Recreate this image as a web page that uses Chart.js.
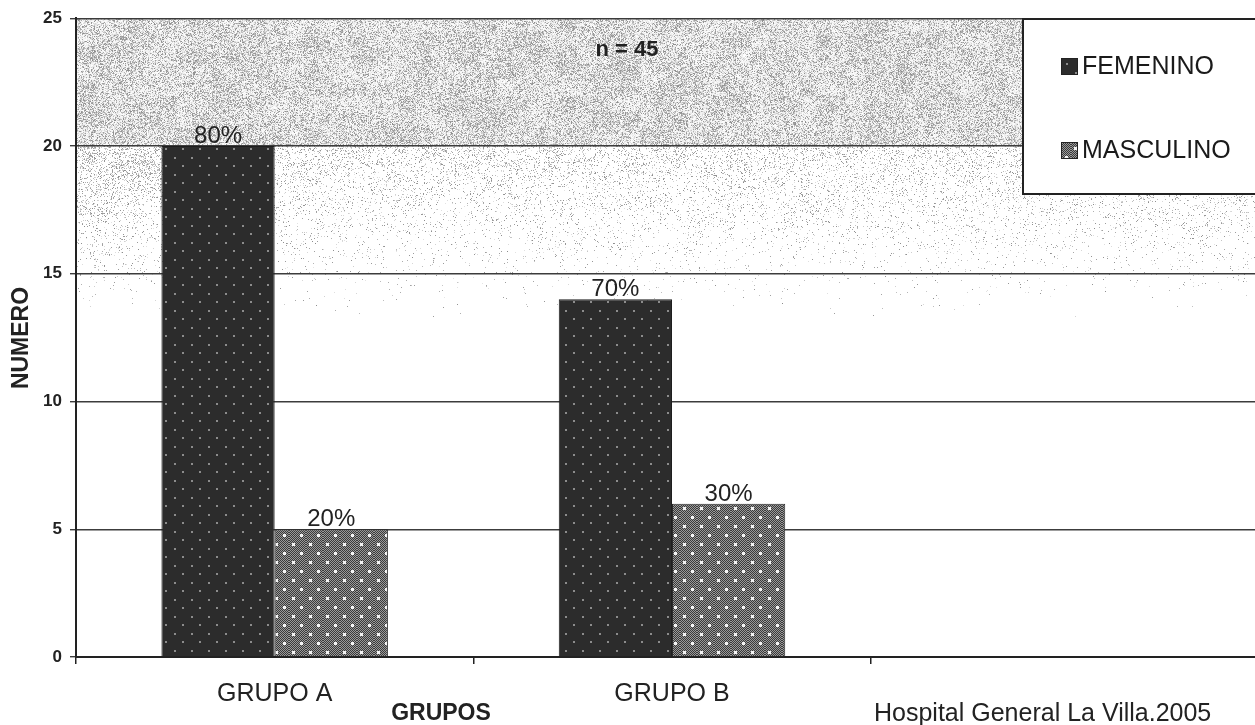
<!DOCTYPE html>
<html>
<head>
<meta charset="utf-8">
<script src="https://cdn.jsdelivr.net/npm/chart.js@4/dist/chart.umd.min.js"></script>
<style>
  html, body { margin: 0; padding: 0; background: #fff; overflow: hidden; }
  #wrap { width: 1268px; height: 725px; }
</style>
</head>
<body>
<div id="wrap"><canvas id="chart" width="1268" height="725"></canvas></div>
<script>
// Categories and counts per sex
const categories = ['GRUPO A', 'GRUPO B', ''];
const femenino = [20, 14, null];
const masculino = [5, 6, null];
const seriesNames = ['FEMENINO', 'MASCULINO'];
const yTicks = [0, 5, 10, 15, 20, 25];
const xTitle = 'GRUPOS';
const yTitle = 'NUMERO';
const sourceNote = 'Hospital General La Villa.2005';

const FONT = '"Liberation Sans", Arial, Helvetica, sans-serif';

// Deterministic hash used for the scanned stipple textures
function hash(x, y) {
  let n = Math.imul(x, 374761393) + Math.imul(y, 668265263);
  n = Math.imul(n ^ (n >>> 13), 1274126177);
  n = n ^ (n >>> 16);
  return (n >>> 0) / 4294967296;
}

// Dark dotted fill
function makeDarkPattern() {
  const c = document.createElement('canvas');
  c.width = 17; c.height = 17;
  const g = c.getContext('2d');
  g.fillStyle = '#2c2c2c';
  g.fillRect(0, 0, 17, 17);
  g.fillStyle = '#8c8c8c';
  g.fillRect(4, 4, 2, 2);
  g.fillRect(12, 12, 2, 2);
  return g.createPattern(c, 'repeat');
}

// Mid-grey checkered fill with white dots
function makeGreyPattern() {
  const c = document.createElement('canvas');
  c.width = 17; c.height = 18;
  const g = c.getContext('2d');
  for (let y = 0; y < 18; y++) {
    for (let x = 0; x < 17; x++) {
      g.fillStyle = ((x + y) % 2 === 0) ? '#3a3a3a' : '#9a9a9a';
      g.fillRect(x, y, 1, 1);
    }
  }
  g.fillStyle = '#f4f4f4';
  g.fillRect(3, 3, 3, 3);
  g.fillRect(11, 12, 3, 3);
  return g.createPattern(c, 'repeat');
}

const darkFill = makeDarkPattern();
const greyFill = makeGreyPattern();

// Grey stipple haze in the upper part of the plot area
const hazePlugin = {
  id: 'haze',
  beforeDraw(chart) {
    const { ctx, chartArea: a } = chart;
    const y = chart.scales.y;
    const yTop = Math.round(a.top);
    const yMid = Math.round(y.getPixelForValue(20));
    const yEnd = Math.round(y.getPixelForValue(13));
    const x0 = Math.round(a.left), x1 = Math.round(a.right);
    const w = x1 - x0, h = yEnd - yTop;
    const img = ctx.createImageData(w, h);
    for (let j = 0; j < h; j++) {
      const py = yTop + j;
      for (let i = 0; i < w; i++) {
        const px = x0 + i;
        let dens;
        if (py <= yMid) {
          dens = 0.5;
        } else {
          const t = (py - yMid) / (yEnd - yMid);
          const leftBoost = px < x0 + 90 ? 0.2 : 0;
          dens = Math.max(0, (0.2 + leftBoost) * (1 - t) * (1 - t));
        }
        const blob = 0.7 + 0.6 * hash(px >> 4, py >> 4);
        const r1 = hash(px, py), r2 = hash(py + 911, px + 37);
        let v = 255;
        if (r1 < dens * blob) v = 140 + 90 * r2;
        else if (py <= yMid) v = 232 + 23 * r2;
        const k = (j * w + i) * 4;
        img.data[k] = img.data[k + 1] = img.data[k + 2] = v;
        img.data[k + 3] = 255;
      }
    }
    ctx.putImageData(img, x0, yTop);
  }
};

// Percentage of each bar within its group, written above the bar
const pctPlugin = {
  id: 'pct',
  afterDatasetsDraw(chart) {
    const { ctx } = chart;
    ctx.save();
    ctx.font = '24px ' + FONT;
    ctx.fillStyle = '#222';
    ctx.textAlign = 'center';
    ctx.textBaseline = 'alphabetic';
    chart.data.datasets.forEach((ds, di) => {
      const meta = chart.getDatasetMeta(di);
      meta.data.forEach((bar, i) => {
        const v = ds.data[i];
        if (v == null) return;
        const total = chart.data.datasets.reduce((s, d) => s + (d.data[i] || 0), 0);
        const pct = Math.round(v / total * 100);
        ctx.fillText(pct + '%', bar.x, bar.y - 3);
      });
    });
    ctx.restore();
  }
};

// Legend box, sample size, axis titles and source note
const annotPlugin = {
  id: 'annot',
  afterDraw(chart) {
    const { ctx, chartArea: a } = chart;
    ctx.save();

    // legend
    const lx = 1023, ly = Math.round(a.top) + 1, lw = 260, lh = 175;
    ctx.fillStyle = '#fff';
    ctx.fillRect(lx, ly, lw, lh);
    ctx.strokeStyle = '#222';
    ctx.lineWidth = 2;
    ctx.strokeRect(lx, ly, lw, lh);
    ctx.font = '25px ' + FONT;
    ctx.textBaseline = 'middle';
    ctx.textAlign = 'left';
    const rows = [66, 150];
    chart.data.datasets.forEach((ds, i) => {
      const cy = rows[i];
      ctx.fillStyle = ds.backgroundColor;
      ctx.fillRect(1061, cy - 8, 17, 17);
      ctx.strokeStyle = '#222';
      ctx.lineWidth = 1;
      ctx.strokeRect(1061.5, cy - 7.5, 16, 16);
      ctx.fillStyle = '#1a1a1a';
      ctx.fillText(ds.label, 1082, cy + 1);
    });

    // sample size
    const n = chart.data.datasets.reduce((s, d) => s + d.data.reduce((t, v) => t + (v || 0), 0), 0);
    ctx.font = 'bold 22px ' + FONT;
    ctx.fillStyle = '#222';
    ctx.textAlign = 'center';
    ctx.fillText('n = ' + n, 627, 50);

    // y title
    ctx.save();
    ctx.translate(22, 338);
    ctx.rotate(-Math.PI / 2);
    ctx.font = 'bold 23px ' + FONT;
    ctx.fillText(yTitle, 0, 0);
    ctx.restore();

    // x title and source
    ctx.font = 'bold 23px ' + FONT;
    ctx.textAlign = 'center';
    ctx.fillText(xTitle, 441, 714);
    ctx.font = '25px ' + FONT;
    ctx.textAlign = 'left';
    ctx.fillText(sourceNote, 874, 714);
    ctx.restore();
  }
};

new Chart(document.getElementById('chart'), {
  type: 'bar',
  data: {
    labels: categories,
    datasets: [
      { label: seriesNames[0], data: femenino, backgroundColor: darkFill, borderColor: '#1e1e1e', borderWidth: 1 },
      { label: seriesNames[1], data: masculino, backgroundColor: greyFill, borderColor: '#2a2a2a', borderWidth: 1 }
    ]
  },
  options: {
    responsive: false,
    animation: false,
    devicePixelRatio: 1,
    layout: { padding: { top: 17, left: 0, right: 0, bottom: 0 } },
    datasets: { bar: { categoryPercentage: 0.57, barPercentage: 1.0 } },
    plugins: {
      legend: { display: false },
      title: { display: false },
      tooltip: { enabled: false }
    },
    scales: {
      x: {
        offset: true,
        grid: { offset: true, drawOnChartArea: false, drawTicks: true, tickLength: 7, color: '#222', lineWidth: 1.5 },
        border: { display: true, color: '#222', width: 2 },
        ticks: { font: { family: FONT, size: 25 }, color: '#222', padding: 15, maxRotation: 0, autoSkip: false },
        afterFit(scale) { scale.height = 68; }
      },
      y: {
        min: 0,
        max: 25,
        afterBuildTicks(scale) { scale.ticks = yTicks.map(v => ({ value: v })); },
        grid: { color: '#3c3c3c', lineWidth: 1.4, tickLength: 6, drawTicks: true },
        border: { display: true, color: '#222', width: 2 },
        ticks: { font: { family: FONT, size: 17, weight: 'bold' }, color: '#222', padding: 8 },
        afterFit(scale) { scale.width = 76; }
      }
    }
  },
  plugins: [hazePlugin, pctPlugin, annotPlugin]
});
</script>
</body>
</html>
